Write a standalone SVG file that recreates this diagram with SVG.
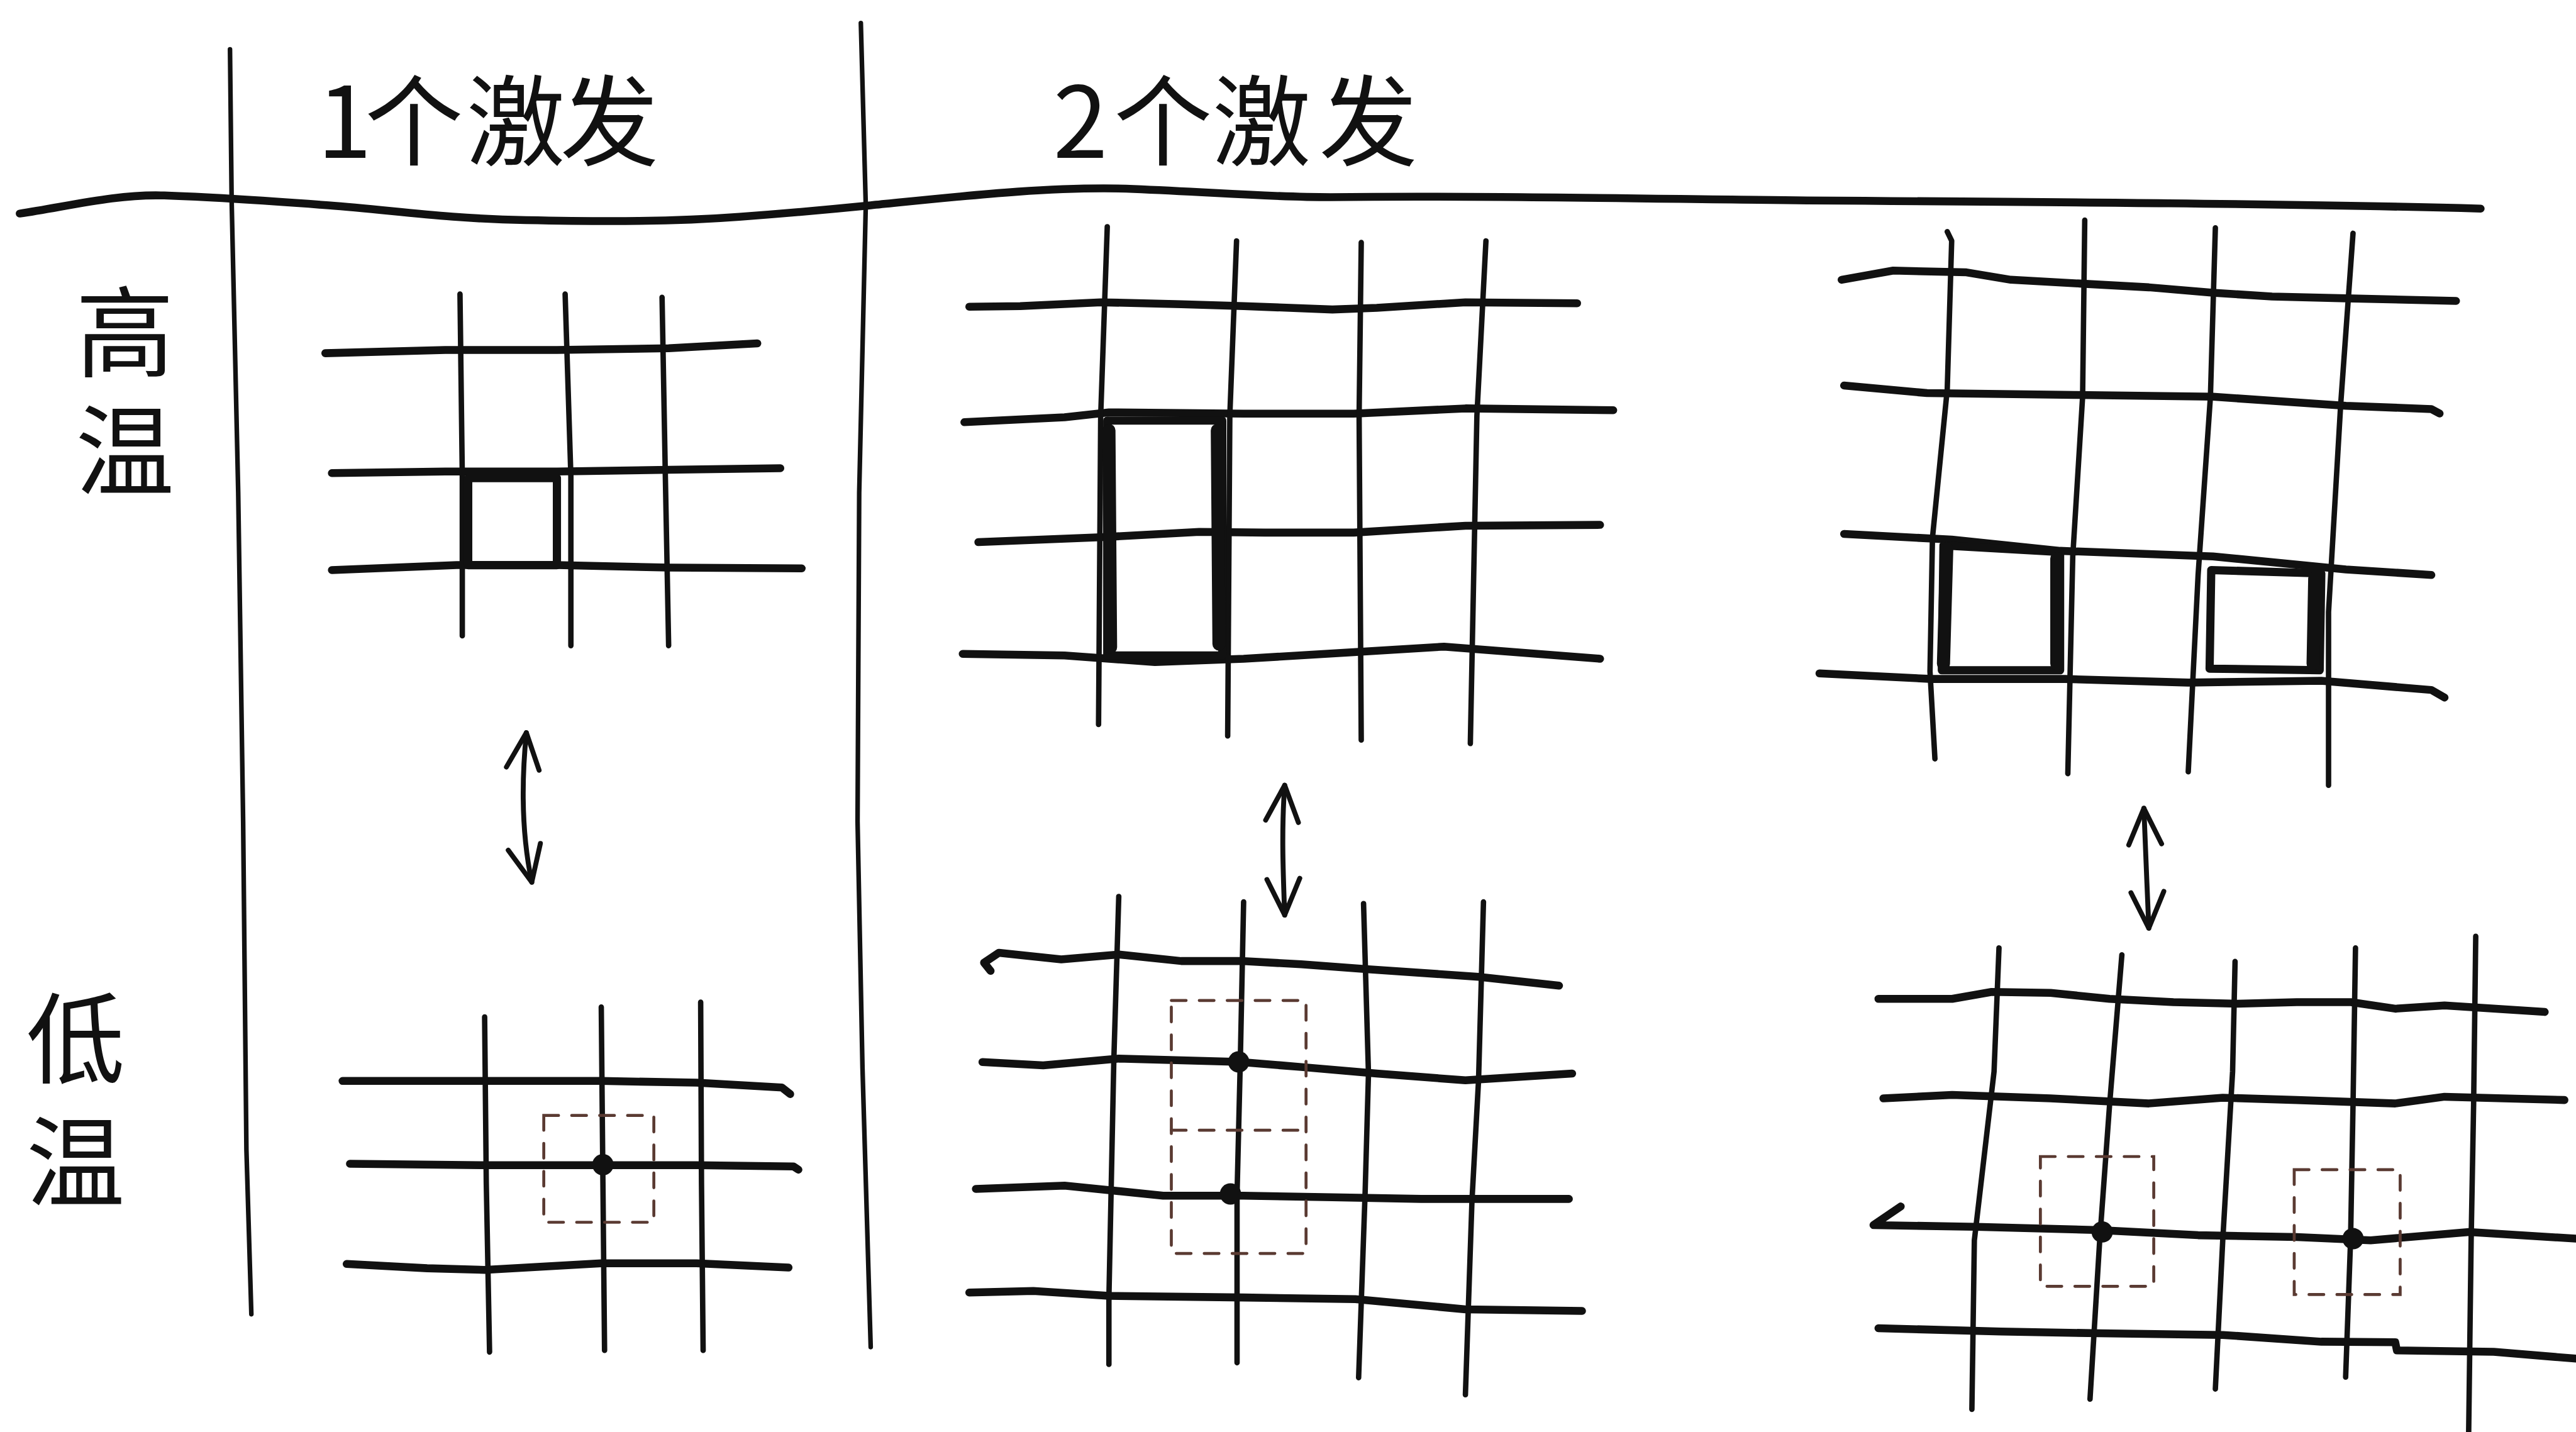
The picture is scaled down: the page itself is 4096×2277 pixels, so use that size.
<svg xmlns="http://www.w3.org/2000/svg" width="4096" height="2277" viewBox="0 0 4096 2277">
<style>
.l{fill:none;stroke:#111;stroke-linecap:round;stroke-linejoin:round}
.h{stroke-width:4.8}
.v{stroke-width:3.3}
.d{stroke-width:2.8}
.b{stroke-width:5}
.bb{stroke-width:8}
.ds{fill:none;stroke:#5a3a32;stroke-width:1.8;stroke-dasharray:9 8;stroke-linecap:round}
.dot{fill:#111}
.t{font-family:"Noto Sans CJK SC","Noto Sans",sans-serif;fill:#111}
.vt{writing-mode:vertical-rl;font-size:60px}
.a{fill:none;stroke:#111;stroke-width:3;stroke-linecap:round;marker-start:url(#v);marker-end:url(#v)}
</style>
<defs>
<marker id="v" viewBox="0 0 26 24" refX="24" refY="12" markerWidth="26" markerHeight="24" markerUnits="userSpaceOnUse" orient="auto-start-reverse">
<path d="M2,2 L24,12 L2,22" fill="none" stroke="#111" stroke-width="3" stroke-linecap="round" stroke-linejoin="round"/>
</marker>
</defs>
<rect width="4096" height="2277" fill="#fff"/>
<g transform="scale(2.6122)">
<g id="frame">
<path class="l h" d="M12,130 C40,126 70,118 100,119 C130,120 160,122 200,125 C240,128 270,133 320,134 C370,135 410,135 450,132 C490,129 510,127 530,125 C580,120 640,113 690,115 C740,117 770,120 810,120 C900,119 1000,121 1100,122 C1250,123 1400,124 1510,127"/>
<polyline class="l d" points="140,30 141,122 145,300 148,500 150,700 153,800"/>
<polyline class="l d" points="524,14 527,125 523,300 522,500 525,650 530,820"/>
</g>
<g id="header-1">
<text class="t" font-size="60" y="96" x="193 222 284 341">1个激发</text>
</g>
<g id="header-2">
<text class="t" font-size="60" y="96" x="641 678 738 803">2个激发</text>
</g>
<g id="label-high">
<text class="t vt" x="76" y="172" letter-spacing="12">高温</text>
</g>
<g id="label-low">
<text class="t vt" x="46" y="602" letter-spacing="15">低温</text>
</g>
<g id="grid-1-high">
<polyline class="l h" points="198,215 271,213 339,213 407,212 461,209"/>
<polyline class="l h" points="202,288 271,287 339,287 407,286 475,285"/>
<polyline class="l h" points="202,347 278,344 339,344 407,345.5 488,346"/>
<polyline class="l v" points="280,179 281.4,290 281.4,387"/>
<polyline class="l v" points="344,179 347.5,290 347.5,393"/>
<polyline class="l v" points="403,181 405,290 407,393"/>
<path class="l b" d="M285,291 L339,291 L339,344 L285,344 Z"/>
</g>
<g id="grid-1-low">
<polyline class="l h" points="208.5,658 295,658 366,658 424,659 476,662 481,666"/>
<polyline class="l h" points="213,708.4 295,709.3 366,709.3 424,709.3 483,710 486,712"/>
<polyline class="l h" points="211,769.4 260,772 295,773 366,769 424,769 480,771.6"/>
<polyline class="l v" points="295,619 296,720 298,823"/>
<polyline class="l v" points="366,613 367,720 368,822"/>
<polyline class="l v" points="426.5,610 427,720 428,822"/>
<circle class="dot" cx="367" cy="709" r="6.5"/>
<rect class="ds" x="331" y="679" width="67" height="65"/>
</g>
<g id="grid-2-high">
<polyline class="l h" points="590,186.7 621,186.3 670,184 719,185.2 757,186.3 811,188.4 838,187.4 892,184 960,184.6"/>
<polyline class="l h" points="587,257 648,254 675,251 757,251.8 824,251.8 892,248.6 982,249.7"/>
<polyline class="l h" points="595.5,330 670,327 730,323.8 770,324.2 824,324.2 892,320 974,319.5"/>
<polyline class="l h" points="586,398 648,399 703,403 757,401 824,397 879,393.6 974,401"/>
<polyline class="l v" points="674,138 670,253 668.7,441"/>
<polyline class="l v" points="752.7,146.6 748.6,253 747.3,448"/>
<polyline class="l v" points="828.6,147.6 827.3,253 828.6,450.5"/>
<polyline class="l v" points="904.5,146.6 899,253 895,452.6"/>
<path class="l b" d="M674,256 L744,256 L744,399 L674,399 Z"/>
<path class="l bb" d="M675,262 L676,394 M741,262 L742,392"/>
</g>
<g id="grid-2-low">
<polyline class="l h" points="603,591 599,586 608,580 646,584 681,581 719,585 757,585 792,587 833,590 900,594.6 949,600"/>
<polyline class="l h" points="598,646.5 635,648.5 681,644.4 754,646.4 792,649.5 838,653.5 892,657.6 957,653.5"/>
<polyline class="l h" points="594,723.7 648,721.7 708,727.8 757,727.8 811,728.8 865,729.8 955,729.8"/>
<polyline class="l h" points="590,786.8 629,785.8 675,788.8 757,789.8 825,790.8 892,797 963,798"/>
<polyline class="l v" points="681,545.7 678,645 675,790 675,830.5"/>
<polyline class="l v" points="757,549 755,645 753,727 753,829.5"/>
<polyline class="l v" points="830,550 833,653.5 831,724.7 827,838.6"/>
<polyline class="l v" points="903,549 900,657.6 896,730.8 892,849"/>
<circle class="dot" cx="754" cy="646.4" r="6.5"/>
<circle class="dot" cx="749" cy="726.8" r="6.5"/>
<rect class="ds" x="713" y="609" width="82" height="154"/>
<line class="ds" x1="713" y1="688" x2="795" y2="688"/>
</g>
<g id="grid-3-high">
<polyline class="l h" points="1121,170.3 1152.4,164.7 1197,165.8 1224,170.3 1266,172.6 1308,174.9 1347,178.2 1383,180.5 1428,181.6 1495,183.2"/>
<polyline class="l h" points="1122.5,234.7 1173,239.3 1263,240.4 1347,241.5 1428,247 1480,249 1485,251.7"/>
<polyline class="l h" points="1122.5,325 1188,328.5 1254,335.3 1347,338.7 1428,346.6 1480,350"/>
<polyline class="l h" points="1107.5,409.9 1176,413.3 1257,413.3 1332,415.5 1413,414.4 1480,420 1488,424.6"/>
<polyline class="l v" points="1185.3,141 1188,146.6 1185.3,237 1176.3,327.4 1174.8,408.8 1177.8,461.9"/>
<polyline class="l v" points="1269,134 1267.7,241.5 1261.7,338.7 1258.7,470.9"/>
<polyline class="l v" points="1348.5,138.7 1345.5,241.5 1338,350 1332,469.8"/>
<polyline class="l v" points="1432.3,142 1424.8,246 1417.4,372.6 1417.4,478"/>
<path class="l b" d="M1183,332 L1254,336 L1254,408 L1182,408 Z"/>
<path class="l bb" d="M1185,334 L1183,404 M1252,340 L1252,404"/>
<path class="l b" d="M1346,347 L1413,349 L1412,408 L1345,407 Z"/>
<path class="l bb" d="M1409,352 L1408,404"/>
</g>
<g id="grid-3-low">
<polyline class="l h" points="1143.4,608 1188.3,608 1212.3,603.8 1248.2,604.4 1284.1,608 1323,610 1362,611 1398,610 1431,610 1458,614 1488,612 1549,616"/>
<polyline class="l h" points="1146.4,668.6 1188.3,666.5 1248.2,668.6 1308,671.7 1353,668.2 1398,669.6 1458,671.7 1488,667.6 1561,669.6"/>
<polyline class="l h" points="1157,734.4 1140.4,745.7 1203,746.8 1278,748.8 1338,751.9 1398,753 1443,755 1503,749.9 1568,754"/>
<polyline class="l h" points="1143.4,808.5 1218,810.5 1278,811.6 1353,812.6 1413,816.7 1458,817 1459,822 1518,822.9 1568,827"/>
<polyline class="l v" points="1216.8,577 1213.8,652.2 1201.8,755 1200.3,857.9"/>
<polyline class="l v" points="1291.6,581.2 1284.1,672.7 1278.1,755 1272.2,851.7"/>
<polyline class="l v" points="1360.5,585.3 1359,652.2 1353,755 1348.5,845.5"/>
<polyline class="l v" points="1433.8,577 1432.3,672.7 1430.8,755 1427.8,838.3"/>
<polyline class="l v" points="1507,569.9 1505.7,672.7 1504.2,755 1502.7,871.8"/>
<circle class="dot" cx="1279.6" cy="749.9" r="6.5"/>
<circle class="dot" cx="1432.3" cy="754" r="6.5"/>
<rect class="ds" x="1242" y="704" width="69" height="79"/>
<rect class="ds" x="1396.5" y="712" width="64.5" height="76"/>
</g>
<g id="connectors">
<path class="a" d="M320.4,446 C317,480 318,510 323.7,537"/>
<path class="a" d="M782,478 C780,505 781,530 782,557"/>
<path class="a" d="M1305,492 C1306,520 1307,540 1308,565"/>
</g>
</g>
</svg>
